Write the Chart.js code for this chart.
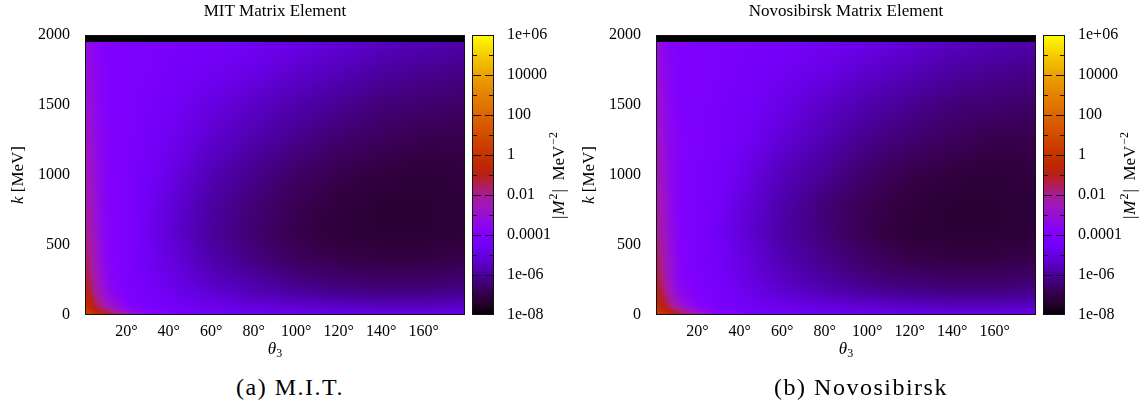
<!DOCTYPE html>
<html>
<head>
<meta charset="utf-8">
<script src="https://cdn.jsdelivr.net/npm/chart.js@4.4.1/dist/chart.umd.min.js"></script>
<style>
  body { margin: 0; background: #fff; width: 1146px; height: 409px; overflow: hidden; position: relative; font-family: "Liberation Serif", serif; }
  .panel { position: absolute; top: 0; width: 573px; height: 409px; }
  .panel canvas { position: absolute; left: 0; top: 0; }
  .caption { position: absolute; top: 374px; left: 140px; width: 300px; text-align: center; font-size: 24px; line-height: 26px; letter-spacing: 1.5px; color: #000; }
</style>
</head>
<body>
<div class="panel" style="left:0">
  <canvas id="mit" width="573" height="365"></canvas>
  <div class="caption">(a) M.I.T.</div>
</div>
<div class="panel" style="left:571px">
  <canvas id="nov" width="573" height="365"></canvas>
  <div class="caption">(b) Novosibirsk</div>
</div>
<script>
const thetaNodes = [1, 2, 4, 7, 12, 20, 30, 45, 60, 80, 100, 120, 140, 160, 179];
const kNodes = [0, 15, 40, 80, 150, 250, 400, 600, 800, 1000, 1250, 1500, 1750, 1950];
const kMax = 2000;

// log10 |M^2| [MeV^-2], one row per kNodes entry, one column per thetaNodes entry
const mitLog = [
  [ 1.2,  0.9,  0.4, -0.2, -1.0, -2.4, -3.6, -4.2, -4.4, -4.5, -4.6, -4.7, -4.7, -4.7, -4.7],
  [ 0.6,  0.3, -0.1, -0.6, -1.4, -2.8, -3.8, -4.4, -4.6, -4.8, -4.9, -5.0, -5.0, -5.0, -5.0],
  [ 0.1, -0.2, -0.6, -1.2, -2.2, -3.4, -4.1, -4.5, -4.7, -4.9, -5.1, -5.2, -5.3, -5.3, -5.2],
  [-0.3, -0.6, -1.0, -1.8, -2.9, -3.8, -4.3, -4.6, -4.9, -5.2, -5.4, -5.6, -5.7, -5.7, -5.6],
  [-0.8, -1.0, -1.5, -2.4, -3.4, -4.0, -4.4, -4.8, -5.2, -5.6, -5.9, -6.1, -6.2, -6.2, -6.1],
  [-1.2, -1.4, -1.9, -2.8, -3.7, -4.1, -4.5, -5.0, -5.5, -5.9, -6.3, -6.5, -6.6, -6.6, -6.5],
  [-1.6, -1.7, -2.2, -3.0, -3.8, -4.2, -4.6, -5.2, -5.8, -6.3, -6.7, -6.9, -7.0, -7.0, -6.9],
  [-2.0, -2.1, -2.5, -3.2, -3.9, -4.2, -4.7, -5.4, -6.0, -6.5, -6.9, -7.2, -7.3, -7.3, -7.2],
  [-2.3, -2.4, -2.7, -3.3, -3.9, -4.2, -4.6, -5.3, -5.9, -6.4, -6.8, -7.1, -7.3, -7.3, -7.2],
  [-2.5, -2.6, -2.9, -3.4, -3.9, -4.2, -4.5, -5.1, -5.7, -6.2, -6.6, -6.9, -7.1, -7.2, -7.1],
  [-2.7, -2.8, -3.1, -3.5, -3.9, -4.1, -4.4, -4.8, -5.3, -5.8, -6.2, -6.5, -6.7, -6.9, -6.9],
  [-2.9, -3.0, -3.2, -3.6, -4.0, -4.1, -4.3, -4.6, -5.0, -5.4, -5.8, -6.1, -6.4, -6.5, -6.6],
  [-3.1, -3.2, -3.4, -3.7, -4.0, -4.1, -4.2, -4.4, -4.6, -4.9, -5.3, -5.6, -5.9, -6.1, -6.2],
  [-3.2, -3.3, -3.5, -3.8, -4.0, -4.1, -4.2, -4.3, -4.4, -4.6, -4.9, -5.2, -5.5, -5.7, -5.8]
];
const novLog = [
  [ 1.2,  0.9,  0.4, -0.2, -1.0, -2.4, -3.6, -4.2, -4.4, -4.5, -4.6, -4.7, -4.7, -4.7, -4.7],
  [ 0.6,  0.3, -0.1, -0.6, -1.4, -2.8, -3.8, -4.4, -4.6, -4.8, -4.9, -5.0, -5.0, -5.0, -5.0],
  [ 0.1, -0.2, -0.6, -1.2, -2.2, -3.4, -4.1, -4.5, -4.7, -4.9, -5.1, -5.2, -5.3, -5.3, -5.2],
  [-0.3, -0.6, -1.0, -1.8, -2.9, -3.8, -4.3, -4.6, -4.9, -5.2, -5.4, -5.6, -5.7, -5.7, -5.6],
  [-0.8, -1.0, -1.5, -2.4, -3.4, -4.0, -4.3, -4.8, -5.2, -5.6, -5.9, -6.1, -6.2, -6.2, -6.1],
  [-1.2, -1.4, -1.9, -2.8, -3.7, -4.1, -4.4, -5.0, -5.5, -5.9, -6.3, -6.5, -6.6, -6.6, -6.5],
  [-1.6, -1.7, -2.2, -3.0, -3.8, -4.2, -4.5, -5.1, -5.7, -6.2, -6.6, -6.9, -7.0, -7.0, -6.9],
  [-2.0, -2.1, -2.5, -3.2, -3.9, -4.2, -4.6, -5.3, -5.9, -6.4, -6.9, -7.2, -7.3, -7.3, -7.2],
  [-2.3, -2.4, -2.7, -3.3, -3.9, -4.2, -4.5, -5.2, -5.8, -6.4, -6.8, -7.1, -7.3, -7.3, -7.2],
  [-2.5, -2.6, -2.9, -3.4, -3.9, -4.2, -4.4, -5.0, -5.6, -6.1, -6.6, -6.9, -7.1, -7.2, -7.1],
  [-2.7, -2.8, -3.1, -3.5, -3.9, -4.1, -4.3, -4.7, -5.2, -5.7, -6.2, -6.5, -6.7, -6.9, -6.9],
  [-2.9, -3.0, -3.2, -3.6, -4.0, -4.1, -4.3, -4.5, -4.9, -5.4, -5.8, -6.1, -6.4, -6.5, -6.6],
  [-3.1, -3.2, -3.4, -3.7, -4.0, -4.1, -4.2, -4.4, -4.6, -4.9, -5.3, -5.6, -5.9, -6.1, -6.2],
  [-3.2, -3.3, -3.5, -3.8, -4.0, -4.1, -4.2, -4.3, -4.4, -4.6, -4.9, -5.2, -5.5, -5.7, -5.8]
];

// axis ticks
const xTicks = [20, 40, 60, 80, 100, 120, 140, 160];
const yTicks = [0, 500, 1000, 1500, 2000];
const cbTicks = [-8, -6, -4, -2, 0, 2, 4, 6];
const cbLabels = ['1e-08', '1e-06', '0.0001', '0.01', '1', '100', '10000', '1e+06'];

// palette (log10 value -> colour)
const palLog = [-8, -7.5, -7, -6.5, -6, -5.5, -5, -4.5, -4, -3.5, -3, -2.5, -2, -1.5, -1, -0.5, 0, 1, 2, 3, 4, 5, 6];
const palCol = ['#000000', '#22002a', '#340044', '#40006e', '#4a009c', '#5800c2', '#6600e2', '#7400f8', '#8000ff',
  '#8c06ee', '#9810d4', '#a016b8', '#a81c96', '#b01e58', '#b82018', '#be2800', '#c63200', '#d24c00', '#dc6600',
  '#e48200', '#eca200', '#f4cc00', '#ffff00'];
const palRGB = palCol.map(h => [parseInt(h.substr(1, 2), 16), parseInt(h.substr(3, 2), 16), parseInt(h.substr(5, 2), 16)]);

function colorFor(v) {
  if (v <= palLog[0]) return palRGB[0];
  if (v >= palLog[palLog.length - 1]) return palRGB[palRGB.length - 1];
  let i = 0;
  while (palLog[i + 1] < v) i++;
  const t = (v - palLog[i]) / (palLog[i + 1] - palLog[i]);
  const a = palRGB[i], b = palRGB[i + 1];
  return [a[0] + (b[0] - a[0]) * t, a[1] + (b[1] - a[1]) * t, a[2] + (b[2] - a[2]) * t];
}

function findCell(nodes, v) {
  if (v <= nodes[0]) return [0, 0];
  if (v >= nodes[nodes.length - 1]) return [nodes.length - 2, 1];
  let i = 0;
  while (nodes[i + 1] < v) i++;
  return [i, (v - nodes[i]) / (nodes[i + 1] - nodes[i])];
}

const FONT = '"Liberation Serif", "DejaVu Serif", serif';

// paints the map from the dataset's nodes through the x/y scales
const heatmapPlugin = {
  id: 'heatmap',
  beforeDatasetsDraw(chart) {
    const ds = chart.data.datasets[0];
    const nx = thetaNodes.length;
    const xs = chart.scales.x, ys = chart.scales.y, ca = chart.chartArea;
    const x0 = Math.round(ca.left), y0 = Math.round(ca.top);
    const w = Math.round(ca.right) - x0, h = Math.round(ca.bottom) - y0;
    const off = document.createElement('canvas');
    off.width = w; off.height = h;
    const octx = off.getContext('2d');
    const img = octx.createImageData(w, h);
    const kTop = kNodes[kNodes.length - 1];
    for (let py = 0; py < h; py++) {
      const k = ys.getValueForPixel(y0 + py + 0.5);
      const [j, ty] = findCell(kNodes, k);
      for (let px = 0; px < w; px++) {
        let rgb;
        if (k > kTop) {
          rgb = [0, 0, 0];
        } else {
          const th = xs.getValueForPixel(x0 + px + 0.5);
          const [i, tx] = findCell(thetaNodes, th);
          const v00 = ds.data[j * nx + i].v, v10 = ds.data[j * nx + i + 1].v;
          const v01 = ds.data[(j + 1) * nx + i].v, v11 = ds.data[(j + 1) * nx + i + 1].v;
          const v = (v00 * (1 - tx) + v10 * tx) * (1 - ty) + (v01 * (1 - tx) + v11 * tx) * ty;
          rgb = colorFor(v);
        }
        const o = (py * w + px) * 4;
        img.data[o] = rgb[0]; img.data[o + 1] = rgb[1]; img.data[o + 2] = rgb[2]; img.data[o + 3] = 255;
      }
    }
    octx.putImageData(img, 0, 0);
    chart.ctx.drawImage(off, x0, y0);
  },
  afterDraw(chart) {
    const ctx = chart.ctx, ca = chart.chartArea, cb = chart.scales.cb;
    ctx.save();
    // frame
    ctx.strokeStyle = '#111';
    ctx.lineWidth = 1;
    ctx.strokeRect(Math.round(ca.left) - 0.5, Math.round(ca.top) + 0.5, Math.round(ca.right - ca.left) + 1, Math.round(ca.bottom - ca.top) - 1);

    // colour bar
    const bx0 = Math.round(ca.right) + 9, bx1 = bx0 + 20;
    for (let y = Math.round(cb.top); y < Math.round(cb.bottom); y++) {
      const c = colorFor(cb.getValueForPixel(y + 0.5));
      ctx.fillStyle = 'rgb(' + c.map(Math.round).join(',') + ')';
      ctx.fillRect(bx0, y, bx1 - bx0, 1);
    }
    ctx.strokeStyle = '#111';
    ctx.strokeRect(bx0 - 0.5, Math.round(cb.top) + 0.5, bx1 - bx0 + 1, Math.round(cb.bottom - cb.top) - 1);
    for (let v = cb.min + 1; v < cb.max; v++) {
      const y = Math.round(cb.getPixelForValue(v)) + 0.5;
      const len = (v % 2 === 0) ? 8 : 4;
      ctx.beginPath();
      ctx.moveTo(bx0, y); ctx.lineTo(bx0 + len, y);
      ctx.moveTo(bx1, y); ctx.lineTo(bx1 - len, y);
      ctx.stroke();
    }

    ctx.fillStyle = '#000';
    ctx.textBaseline = 'middle';
    const cx = (ca.left + ca.right) / 2, cy = (ca.top + ca.bottom) / 2;

    // title
    ctx.font = '17px ' + FONT;
    ctx.textAlign = 'center';
    ctx.fillText(chart.options.plotTitle, cx, 12);

    // x axis title: theta_3
    ctx.font = 'italic 17px ' + FONT;
    const tw = ctx.measureText('θ').width;
    ctx.textAlign = 'left';
    ctx.fillText('θ', cx - tw / 2 - 3, 350);
    ctx.font = '12px ' + FONT;
    ctx.fillText('3', cx + tw / 2 - 3, 354);

    // y axis title: k [MeV]
    ctx.save();
    ctx.translate(19, cy);
    ctx.rotate(-Math.PI / 2);
    ctx.font = 'italic 17px ' + FONT;
    const kw = ctx.measureText('k').width;
    ctx.font = '17px ' + FONT;
    const rw = ctx.measureText(' [MeV]').width;
    let sx = -(kw + rw) / 2;
    ctx.font = 'italic 17px ' + FONT;
    ctx.fillText('k', sx, 0);
    ctx.font = '17px ' + FONT;
    ctx.fillText(' [MeV]', sx + kw, 0);
    ctx.restore();

    // colour bar title: |M^2| MeV^-2
    ctx.save();
    ctx.translate(560, cy);
    ctx.rotate(-Math.PI / 2);
    const parts = [
      ['|', '17px ', 0], ['M', 'italic 17px ', 0], ['2', '12px ', -6], ['|  MeV', '17px ', 0], ['−2', '12px ', -6]
    ];
    let total = 0;
    parts.forEach(p => { ctx.font = p[1] + FONT; total += ctx.measureText(p[0]).width + 1; });
    sx = -total / 2;
    parts.forEach(p => {
      ctx.font = p[1] + FONT;
      ctx.fillText(p[0], sx, p[2]);
      sx += ctx.measureText(p[0]).width + 1;
    });
    ctx.restore();
    ctx.restore();
  }
};

// invisible tick marks used only to push the labels sideways
// (ticks.padding also pads the plot top/bottom, tickLength does not)
const hiddenTicks = len => ({ display: true, drawOnChartArea: false, drawTicks: true, tickLength: len, color: 'rgba(0,0,0,0)' });

function makeChart(id, title, logs) {
  const points = [];
  kNodes.forEach((k, j) => thetaNodes.forEach((t, i) => points.push({ x: t, y: k, v: logs[j][i] })));
  return new Chart(document.getElementById(id), {
    type: 'scatter',
    data: { datasets: [{ data: points, pointRadius: 0, pointHoverRadius: 0 }] },
    options: {
      responsive: false,
      animation: false,
      events: [],
      plotTitle: title,
      layout: { padding: { left: 0, right: 0, top: 35, bottom: 0 } },
      plugins: { legend: { display: false }, tooltip: { enabled: false } },
      scales: {
        x: {
          type: 'linear', min: 1, max: 179,
          grid: hiddenTicks(4), border: { display: false },
          afterBuildTicks: s => { s.ticks = xTicks.map(v => ({ value: v })); },
          afterFit: s => { s.height = 50; },
          ticks: { padding: 3, color: '#000', font: { family: FONT, size: 16 }, maxRotation: 0, callback: v => v + '°' }
        },
        y: {
          type: 'linear', min: 0, max: kMax,
          grid: hiddenTicks(13), border: { display: false },
          afterBuildTicks: s => { s.ticks = yTicks.map(v => ({ value: v })); },
          afterFit: s => { s.width = 86; },
          ticks: { padding: 3, color: '#000', font: { family: FONT, size: 16 }, callback: v => String(v) }
        },
        cb: {
          type: 'linear', position: 'right', min: -8, max: 6,
          grid: hiddenTicks(40), border: { display: false },
          afterBuildTicks: s => { s.ticks = cbTicks.map(v => ({ value: v })); },
          afterFit: s => { s.width = 109; },
          ticks: { padding: 3, color: '#000', font: { family: FONT, size: 16 }, callback: v => cbLabels[cbTicks.indexOf(v)] }
        }
      }
    },
    plugins: [heatmapPlugin]
  });
}

makeChart('mit', 'MIT Matrix Element', mitLog);
makeChart('nov', 'Novosibirsk Matrix Element', novLog);
</script>
</body>
</html>
